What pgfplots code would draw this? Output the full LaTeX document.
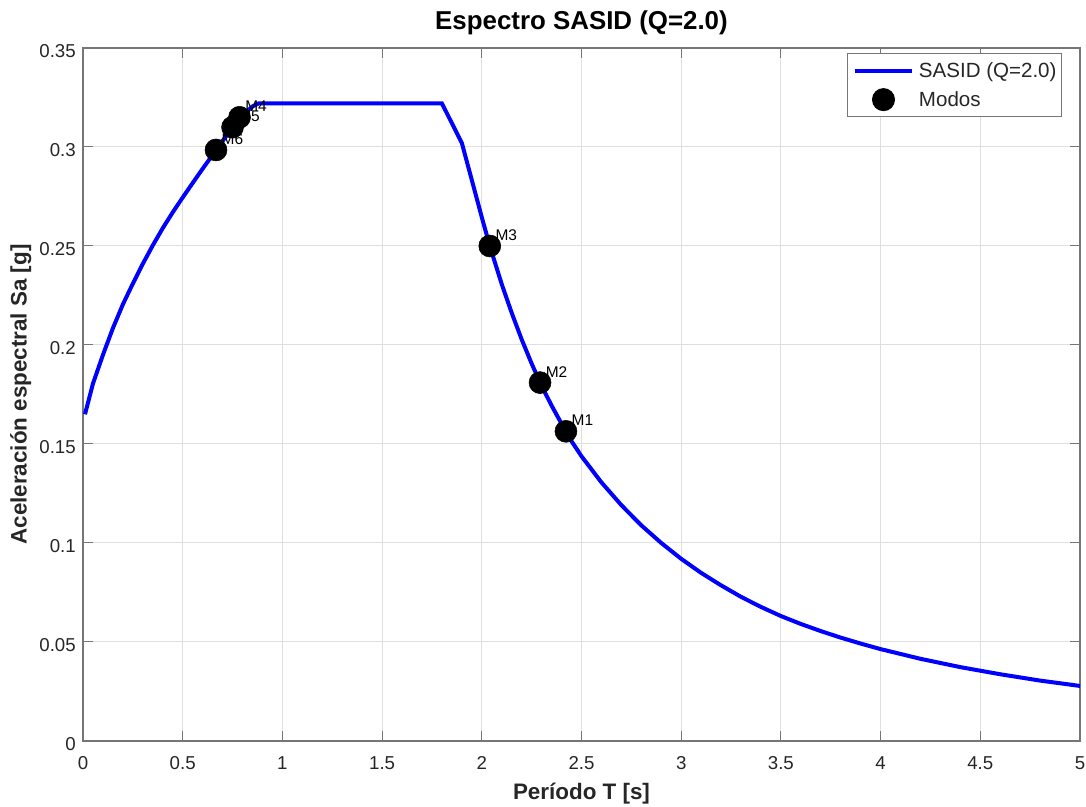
\documentclass[border=0pt]{standalone}
\usepackage{pgfplots}
\pgfplotsset{compat=1.18}
\usepackage{fontspec}
\setmainfont{Liberation Sans}
\definecolor{txt}{RGB}{38,38,38}
\definecolor{axgray}{RGB}{118,118,118}
\definecolor{gridc}{RGB}{223,223,223}
\begin{document}
\begin{tikzpicture}
\begin{axis}[
  scale only axis, width=747.75pt, height=519.75pt,
  xmin=0, xmax=5, ymin=0, ymax=0.35,
  xtick={0,0.5,1,1.5,2,2.5,3,3.5,4,4.5,5},
  xticklabels={0,0.5,1,1.5,2,2.5,3,3.5,4,4.5,5},
  ytick={0,0.05,0.1,0.15,0.2,0.25,0.3,0.35},
  yticklabels={0,0.05,0.1,0.15,0.2,0.25,0.3,0.35},
  tick align=inside, major tick length=7.5pt,
  tick style={axgray, line width=0.75pt},
  axis line style={axgray, line width=1pt},
  grid=major, major grid style={gridc, line width=0.75pt},
  ticklabel style={font=\fontsize{14}{16}\selectfont, text=txt},
  xticklabel style={inner sep=0pt, anchor=north, yshift=-11.25pt},
  yticklabel style={inner sep=0pt, anchor=east, xshift=-5.25pt, yshift=-2.25pt},
  title={Espectro SASID (Q=2.0)},
  title style={font=\bfseries\fontsize{19.4}{23}\selectfont, text=black, at={(axis description cs:0.5,1.027)}, anchor=base, yshift=-6pt, inner sep=0pt},
  xlabel={Período T [s]},
  xlabel style={font=\bfseries\fontsize{16.8}{20}\selectfont, text=txt, at={(axis description cs:0.5,-0.0851)}, anchor=base, inner sep=0pt},
  ylabel={Aceleración espectral Sa [g]},
  ylabel style={font=\bfseries\fontsize{16.8}{20}\selectfont, text=txt, at={(axis description cs:-0.0565,0.5)}, anchor=base, inner sep=0pt},
  legend style={at={(axis description cs:1,1)}, anchor=north east, xshift=-13.5pt, yshift=-3.75pt,
    draw=axgray, line width=0.75pt, fill=white, inner xsep=3.75pt, inner ysep=1.9pt,
    font=\fontsize{15.4}{18}\selectfont, text=txt, row sep=0pt, column sep=3.75pt,
    nodes={inner sep=0pt, text height=16.4pt, text depth=5.4pt}},
  legend cell align=left,
]
\addplot[blue, line width=3pt,
  legend image code/.code={\draw[blue, line width=3pt] (0pt,0pt) -- (42.75pt,0pt);}]
coordinates {
(0.01,0.165) (0.05,0.1805) (0.10,0.195) (0.15,0.2085) (0.20,0.2205) (0.25,0.2310)
(0.30,0.2410) (0.35,0.2503) (0.40,0.2590) (0.45,0.2670) (0.50,0.2745) (0.55,0.2818)
(0.60,0.2890) (0.65,0.2960) (0.70,0.3030) (0.75,0.3100) (0.80,0.3160) (0.85,0.3205)
(0.88,0.322) (1.80,0.322) (1.90,0.302) (2.00,0.2645) (2.04,0.2500) (2.10,0.2307)
(2.15,0.2162) (2.20,0.2028) (2.25,0.1906) (2.30,0.1793) (2.35,0.1694) (2.40,0.1602)
(2.45,0.1514) (2.50,0.1438) (2.60,0.1306) (2.70,0.1191) (2.80,0.1089) (2.90,0.1000)
(3.00,0.0920) (3.10,0.0849) (3.20,0.0786) (3.30,0.0728) (3.40,0.0677) (3.50,0.0631)
(3.60,0.0591) (3.70,0.0555) (3.80,0.0522) (3.90,0.0492) (4.00,0.0464) (4.20,0.0415)
(4.40,0.0373) (4.60,0.0337) (4.80,0.0305) (5.00,0.0278)
};
\addlegendentry{SASID (Q=2.0)}
\addplot[only marks, mark=*, mark size=8.25pt, black, mark options={fill=black},
  nodes near coords, point meta=explicit symbolic,
  nodes near coords style={anchor=west, inner sep=0pt, xshift=4.1pt, yshift=8pt,
    font=\fontsize{11.6}{13}\selectfont, text=black},
  legend image code/.code={\path[draw=none] (0pt,0pt) -- (42.75pt,0pt); \fill[black] (21.375pt,0pt) circle (8.25pt);}]
table[meta=lab, row sep=\\] {
T Sa lab\\
2.422 0.1564 M1\\
2.292 0.1810 M2\\
2.040 0.2500 M3\\
0.785 0.3150 M4\\
0.750 0.3100 M5\\
0.667 0.2985 M6\\
};
\addlegendentry{Modos}
\end{axis}
\pgfresetboundingbox
\path[use as bounding box] ([shift={(-62.25pt,-49.5pt)}]current axis.south west) rectangle ([shift={(4.5pt,36pt)}]current axis.north east);
\end{tikzpicture}
\end{document}
